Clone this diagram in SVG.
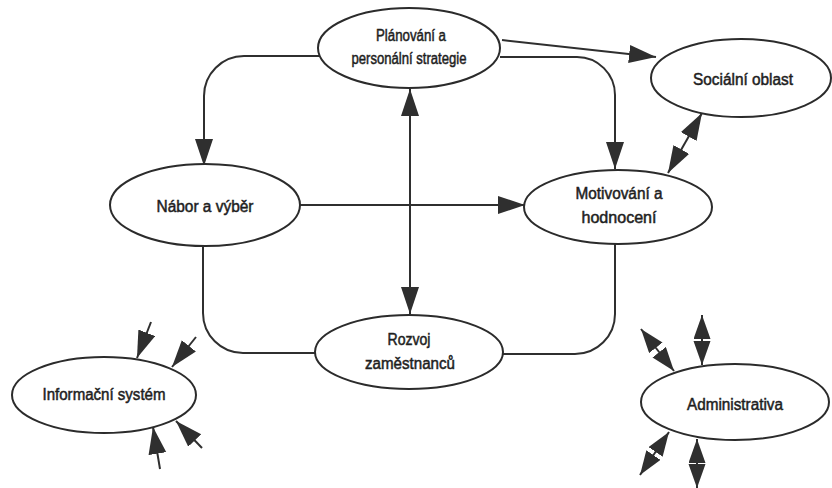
<svg xmlns="http://www.w3.org/2000/svg" width="832" height="488" viewBox="0 0 832 488">
<style>
  .node ellipse { fill: #ffffff; stroke: #2b2b2b; stroke-width: 2; }
  .node text { font-family: "Liberation Sans", Arial, sans-serif; font-size: 16px; fill: #1e1e1e; stroke: #1e1e1e; stroke-width: 0.5; text-anchor: middle; }
  .conn path { fill: none; stroke: #2f2f2f; stroke-width: 2; }
  .one { marker-end: url(#ah); }
  .two { marker-start: url(#ah); marker-end: url(#ah); }
  .adm { marker-start: url(#ad); marker-end: url(#ad); }
</style>
<defs>
  <marker id="ah" markerUnits="userSpaceOnUse" markerWidth="30" markerHeight="20" refX="27" refY="9" orient="auto-start-reverse">
    <path d="M0,0 L27,9 L0,18 z" fill="#2f2f2f"/>
  </marker>
  <marker id="ad" markerUnits="userSpaceOnUse" markerWidth="30" markerHeight="20" refX="24" refY="8.5" orient="auto-start-reverse">
    <path d="M0,0 L24,8.5 L0,17 z" fill="#2f2f2f"/>
  </marker>
</defs>
<rect width="832" height="488" fill="#ffffff"/>
<g class="conn" id="connectors">
  <path class="one" d="M320 56 H244 A40 40 0 0 0 204 96 V166"/>
  <path class="one" d="M500 57 H577 A38 38 0 0 1 615 95 V169"/>
  <path class="one" d="M502 40 L656 57"/>
  <path class="two" d="M702 113 L668 173"/>
  <path class="one" d="M300 205 H525"/>
  <path class="two" d="M410 89 V314"/>
  <path d="M203 246 V313 A40 40 0 0 0 243 353 H316"/>
  <path d="M615 244 V314 A40 40 0 0 1 575 354 H503"/>
  <path class="one" d="M151 322 L137 358"/>
  <path class="one" d="M196 337 L172 367"/>
  <path class="one" d="M160 469 L153 427"/>
  <path class="one" d="M202 448 L176 421"/>
  <path class="adm" d="M702 315 V365"/>
  <path class="adm" d="M641 329 L674 371"/>
  <path class="adm" d="M669 432 L640 475"/>
  <path class="adm" d="M697 439 V488"/>
</g>
<g class="node" id="planovani">
  <ellipse cx="409" cy="48" rx="91" ry="40"/>
  <text x="411" y="41" textLength="70" lengthAdjust="spacingAndGlyphs">Plánování a</text>
  <text x="409" y="64" textLength="115" lengthAdjust="spacingAndGlyphs">personální strategie</text>
</g>
<g class="node" id="socialni">
  <ellipse cx="741" cy="78" rx="90" ry="39"/>
  <text x="743" y="85" textLength="100" lengthAdjust="spacingAndGlyphs">Sociální oblast</text>
</g>
<g class="node" id="nabor">
  <ellipse cx="205" cy="205" rx="95" ry="41"/>
  <text x="205" y="212" textLength="97" lengthAdjust="spacingAndGlyphs">Nábor a výběr</text>
</g>
<g class="node" id="motivovani">
  <ellipse cx="618" cy="207" rx="94" ry="37"/>
  <text x="619" y="199" textLength="87" lengthAdjust="spacingAndGlyphs">Motivování a</text>
  <text x="619" y="223" textLength="75" lengthAdjust="spacingAndGlyphs">hodnocení</text>
</g>
<g class="node" id="rozvoj">
  <ellipse cx="409" cy="352" rx="94" ry="37"/>
  <text x="409" y="345" textLength="43" lengthAdjust="spacingAndGlyphs">Rozvoj</text>
  <text x="410" y="369" textLength="90" lengthAdjust="spacingAndGlyphs">zaměstnanců</text>
</g>
<g class="node" id="informacni">
  <ellipse cx="104" cy="395" rx="92" ry="38"/>
  <text x="104" y="400" textLength="123" lengthAdjust="spacingAndGlyphs">Informační systém</text>
</g>
<g class="node" id="administrativa">
  <ellipse cx="735" cy="402" rx="94" ry="38"/>
  <text x="735" y="410" textLength="96" lengthAdjust="spacingAndGlyphs">Administrativa</text>
</g>
</svg>
